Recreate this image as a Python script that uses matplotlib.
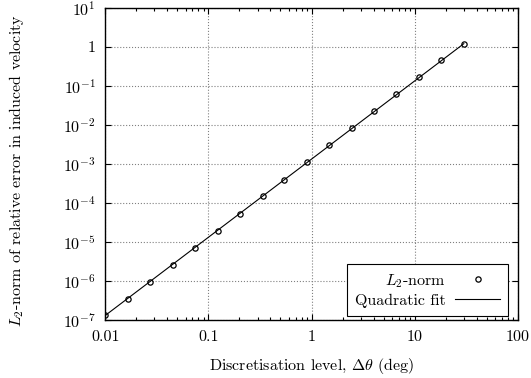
import numpy as np
import matplotlib
matplotlib.use("Agg")
import matplotlib.pyplot as plt
from matplotlib.ticker import FixedLocator, FixedFormatter, LogLocator, NullLocator

plt.rcParams['font.family'] = 'serif'
plt.rcParams['font.serif'] = ['cmr10']
plt.rcParams['mathtext.fontset'] = 'cm'
plt.rcParams['axes.formatter.use_mathtext'] = True
plt.rcParams['font.size'] = 11.5

# discretisation level (deg) and L2-norm of relative error
dtheta = [0.01, 0.0166, 0.0273, 0.045, 0.0745, 0.123, 0.202, 0.335, 0.547,
          0.906, 1.49, 2.47, 4.07, 6.67, 11.1, 18.2, 30.0]
l2_err = [1.34e-7, 3.58e-7, 9.8e-7, 2.67e-6, 7.28e-6, 1.98e-5, 5.4e-5, 1.48e-4,
          3.95e-4, 1.1e-3, 3.0e-3, 8.2e-3, 2.23e-2, 6.1e-2, 0.166, 0.472, 1.17]

xticks = [0.01, 0.1, 1, 10, 100]
xtick_labels = ['0.01', '0.1', '1', '10', '100']
yticks = [1e-7, 1e-6, 1e-5, 1e-4, 1e-3, 1e-2, 1e-1, 1, 10]
ytick_labels = [r'$10^{-7}$', r'$10^{-6}$', r'$10^{-5}$', r'$10^{-4}$',
                r'$10^{-3}$', r'$10^{-2}$', r'$10^{-1}$', '1', r'$10^{1}$']

x = np.array(dtheta)
y = np.array(l2_err)
# quadratic fit y = c x^2 in log space
c = np.exp(np.mean(np.log(y) - 2 * np.log(x)))
yfit = c * x**2

fig = plt.figure(figsize=(5.31, 3.78), dpi=100)
ax = fig.add_axes([0.1983, 0.1526, 0.975 - 0.1983, 0.9796 - 0.1526])

ax.plot(x, y, linestyle='none', marker='o', markersize=3.8, mfc='none',
        mec='black', mew=0.9, label=r'$L_2$-norm')
ax.plot(x, yfit, color='black', lw=0.8, label='Quadratic fit')

ax.set_xscale('log')
ax.set_yscale('log')
ax.set_xlim(0.01, 100)
ax.set_ylim(1e-7, 10)

ax.xaxis.set_major_locator(FixedLocator(xticks))
ax.xaxis.set_major_formatter(FixedFormatter(xtick_labels))
ax.xaxis.set_minor_locator(LogLocator(base=10, subs=np.arange(2, 10), numticks=20))
ax.yaxis.set_major_locator(FixedLocator(yticks))
ax.yaxis.set_major_formatter(FixedFormatter(ytick_labels))
ax.yaxis.set_minor_locator(NullLocator())

ax.tick_params(which='both', direction='in', top=True, right=True, width=0.8)
ax.tick_params(which='major', length=4, pad=7)
ax.tick_params(which='minor', length=2)

ax.grid(True, which='major', linestyle=':', color='gray', lw=0.8)
for s in ax.spines.values():
    s.set_linewidth(1.0)

ax.set_xlabel(r'Discretisation level, $\Delta\theta$ (deg)')
ax.set_ylabel(r'$L_2$-norm of relative error in induced velocity')
ax.xaxis.set_label_coords(0.5, -0.1133)
ax.yaxis.set_label_coords(-0.193, 0.48)

leg = ax.legend(loc='lower right', bbox_to_anchor=(0.9765, 0.0147),
                markerfirst=False, fancybox=False, framealpha=1,
                edgecolor='black', borderaxespad=0, handlelength=2.8,
                borderpad=0.5, labelspacing=0.25, handletextpad=0.6)
leg.get_frame().set_linewidth(0.8)

fig.savefig('out.png', dpi=100)
